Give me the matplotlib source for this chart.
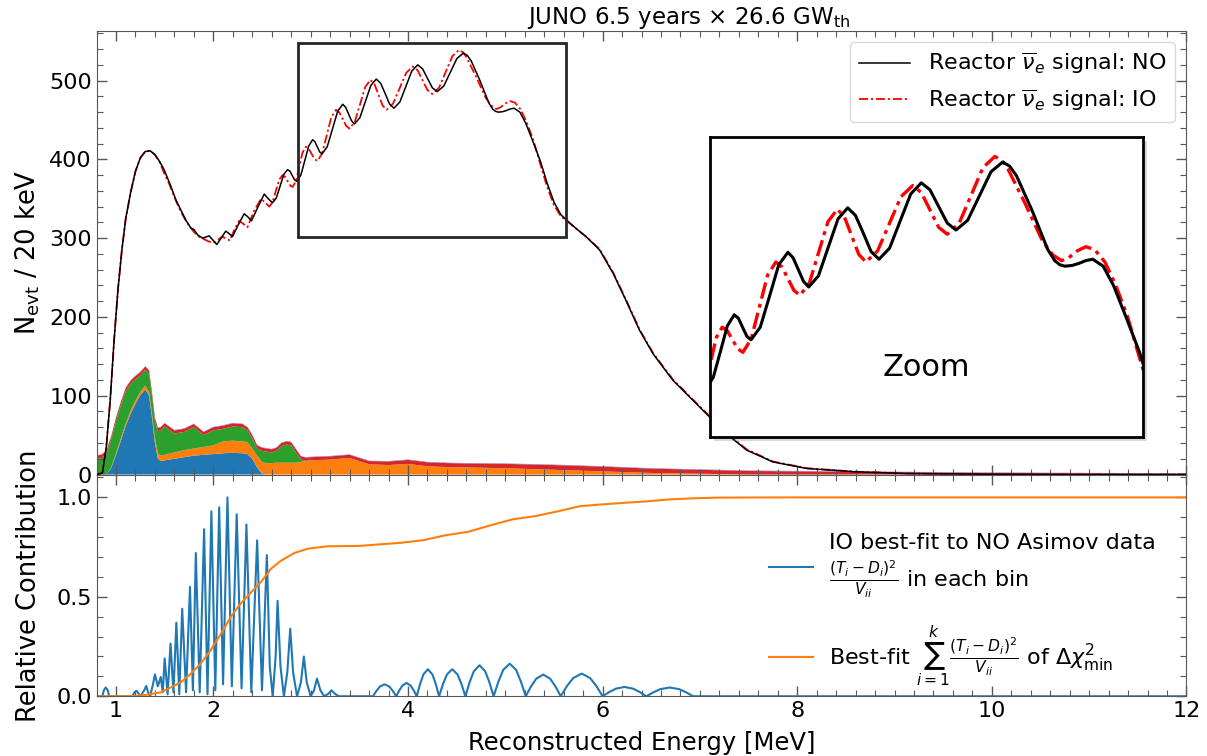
import matplotlib
matplotlib.use("Agg")
import matplotlib.pyplot as plt
import matplotlib.ticker as mticker
from matplotlib.patches import Rectangle

# reactor signal, NO and IO hypotheses (N_evt per 20 keV)
no_e = [0.80, 0.86, 0.90, 0.94, 0.98, 1.02, 1.06, 1.10, 1.15, 1.20,
        1.25, 1.30, 1.35, 1.40, 1.45, 1.494, 1.563, 1.614, 1.665, 1.717,
        1.768, 1.80, 1.84, 1.89, 1.957, 2.00, 2.036, 2.08, 2.128, 2.16,
        2.197, 2.26, 2.317, 2.355, 2.392, 2.46, 2.523, 2.565, 2.608, 2.647,
        2.686, 2.724, 2.763, 2.787, 2.811, 2.835, 2.859, 2.899, 2.94, 2.98,
        3.02, 3.044, 3.068, 3.093, 3.117, 3.170, 3.224, 3.277, 3.33, 3.36,
        3.39, 3.42, 3.45, 3.506, 3.5625, 3.619, 3.675, 3.72, 3.766, 3.81,
        3.856, 3.917, 3.978, 4.039, 4.10, 4.15, 4.20, 4.25, 4.30, 4.3675,
        4.435, 4.5025, 4.57, 4.61, 4.65, 4.74, 4.83, 4.87, 4.90, 4.93,
        4.97, 5.01, 5.05, 5.09, 5.15, 5.21, 5.28, 5.36, 5.43, 5.50,
        5.57, 5.63, 5.73, 5.83, 5.97, 6.11, 6.24, 6.38, 6.52, 6.72,
        6.93, 7.10, 7.27, 7.48, 7.75, 8.10, 8.61, 9.12, 10.0, 11.0,
        12.0]
no_val = [0, 2, 35, 94, 170, 235, 285, 325, 358, 385,
          402, 410, 411, 406, 397, 387, 366, 349, 336, 323,
          313, 311, 304, 300, 303, 297, 292, 300, 309, 306,
          302, 318, 331, 327, 322, 340, 356, 350, 345, 351,
          366, 381, 387, 385, 379.5, 374, 372, 380, 398.5, 417,
          425, 422.5, 416, 409.5, 407, 416, 438.5, 461, 470, 466,
          457.5, 449, 445, 453, 473.5, 494, 502, 496.5, 483.5, 470.5,
          465, 473, 492.5, 512, 520, 515, 503, 491, 486, 493,
          510.5, 528, 535, 532, 525, 500, 472, 464, 461, 460,
          460.5, 462, 464, 465, 460, 446, 424, 398, 370, 346,
          330, 323, 312, 302, 285, 255, 221, 183, 153, 120,
          94, 73, 52, 31, 16, 7.6, 3.4, 1.3, 0.3, 0.05,
          0]

io_e = [0.80, 0.86, 0.90, 0.94, 0.98, 1.02, 1.06, 1.10, 1.15, 1.20,
        1.25, 1.30, 1.35, 1.40, 1.45, 1.50, 1.55, 1.60, 1.65, 1.70,
        1.75, 1.80, 1.85, 1.90, 1.95, 2.00, 2.05, 2.09, 2.14, 2.17,
        2.22, 2.265, 2.31, 2.35, 2.42, 2.49, 2.535, 2.575, 2.609, 2.6425,
        2.676, 2.71, 2.736, 2.7625, 2.789, 2.815, 2.849, 2.8825, 2.916, 2.95,
        2.98, 3.01, 3.04, 3.07, 3.1175, 3.165, 3.2125, 3.26, 3.295, 3.33,
        3.365, 3.40, 3.454, 3.5075, 3.561, 3.615, 3.656, 3.6975, 3.739, 3.78,
        3.8475, 3.915, 3.9825, 4.05, 4.10, 4.15, 4.20, 4.25, 4.319, 4.3875,
        4.456, 4.525, 4.565, 4.60, 4.70, 4.80, 4.86, 4.91, 4.95, 5.00,
        5.05, 5.10, 5.16, 5.22, 5.29, 5.36, 5.43, 5.50, 5.57, 5.63,
        5.73, 5.83, 5.97, 6.11, 6.24, 6.38, 6.52, 6.72, 6.93, 7.10,
        7.27, 7.48, 7.75, 8.10, 8.61, 9.12, 10.0, 11.0, 12.0]
io_val = [0, 2, 35, 94, 170, 235, 285, 325, 358, 385,
          402, 410, 411, 406, 396, 381, 368, 352, 338, 326,
          316, 308, 302, 299, 296, 294, 298, 302, 299, 297,
          312, 322, 318, 314, 335, 350, 345, 340, 346, 360,
          374, 380, 378, 372.5, 367, 365, 372.5, 390.5, 408.5, 416,
          413.5, 407, 400.5, 398, 407.5, 430.5, 453.5, 463, 459.5, 451,
          442.5, 439, 448, 470, 492, 501, 495.5, 482, 468.5, 463,
          471, 490.5, 510, 518, 513, 500.5, 488, 483, 491, 511,
          531, 539, 536, 530, 505, 478, 468, 464, 466, 471,
          474, 472, 463, 447, 424, 394, 365, 342, 328, 322,
          312, 302, 286, 256, 222, 184, 154, 121, 95, 74,
          53, 32, 16.5, 8, 3.5, 1.4, 0.3, 0.05, 0]

# backgrounds, stacked (layer thickness)
bkg_e = [0.80, 0.85, 0.90, 0.95, 1.00, 1.05, 1.10, 1.15, 1.20, 1.25, 1.30, 1.34, 1.37, 1.40,
         1.43, 1.46, 1.50, 1.60, 1.70, 1.80, 1.90, 2.00, 2.10, 2.20, 2.30, 2.35, 2.40, 2.45,
         2.50, 2.55, 2.60, 2.65, 2.70, 2.75, 2.80, 2.85, 2.90, 2.95, 3.00, 3.20, 3.40, 3.60,
         3.80, 4.00, 4.20, 4.40, 4.60, 5.00, 5.50, 6.00, 6.50, 7.00, 7.50, 8.00, 9.00, 10.0,
         11.0, 12.0]
bkg_blue = [0, 0, 0, 8, 25, 43, 62, 77, 90, 101, 108, 100, 72, 40, 20, 17, 18, 20, 22, 24,
            25, 26, 27, 27.5, 27, 26, 20, 9, 1] + [0] * 29
bkg_orange = [0, 0, 0, 1, 2, 3, 3, 4, 4, 4, 5, 5, 5, 6, 7, 7, 7, 8, 9, 9, 10, 11, 15, 15.5,
              15, 15, 13, 15, 15, 14, 14.5, 15, 15, 15, 15, 15, 16, 17, 18, 19, 21, 13, 12,
              13.5, 10.5, 9.5, 9, 8, 6, 4, 2, 1, 0, 0, 0, 0, 0, 0]
bkg_green = [20, 21, 26, 35, 41, 42, 41, 34, 27, 21, 20, 23, 23, 22, 28, 32, 36, 24, 23, 27,
             15, 19, 16, 18, 18, 15, 13, 9, 14, 15, 13.5, 15, 21, 23, 22, 13, 3, 0.5, 0] + [0] * 19
bkg_red = [4] * 42 + [4.5, 5, 5, 5, 5, 5.5, 6, 6, 5.5, 5, 4.5, 4, 3, 2, 1.5, 1]
bkg_purple = [0.6] * 58

# relative contribution per bin and cumulative
rel_e = [0.80, 0.86, 0.875, 0.894, 0.915, 0.93, 1.17, 1.19, 1.21, 1.23, 1.25, 1.29, 1.31, 1.33,
         1.35, 1.38, 1.40, 1.43, 1.46, 1.48, 1.50, 1.53, 1.56, 1.59, 1.62, 1.65, 1.68, 1.72,
         1.76, 1.79, 1.82, 1.86, 1.905, 1.94, 1.98, 2.02, 2.06, 2.10, 2.145, 2.19, 2.24, 2.29,
         2.34, 2.39, 2.45, 2.50, 2.55, 2.58, 2.61, 2.64, 2.66, 2.69, 2.725, 2.76, 2.79, 2.82,
         2.86, 2.90, 2.93, 2.96, 3.00, 3.035, 3.065, 3.10, 3.14, 3.18, 3.215, 3.25, 3.29,
         3.64, 3.676, 3.712, 3.76, 3.808, 3.844,
         3.88, 3.9115, 3.943, 3.985, 4.027, 4.0585,
         4.09, 4.1245, 4.159, 4.205, 4.251, 4.2855,
         4.32, 4.3605, 4.401, 4.455, 4.509, 4.5495,
         4.59, 4.6335, 4.677, 4.735, 4.793, 4.8365,
         4.88, 4.9295, 4.979, 5.045, 5.111, 5.1605,
         5.21, 5.264, 5.318, 5.39, 5.462, 5.516,
         5.57, 5.6345, 5.699, 5.785, 5.871, 5.9355,
         6.00, 6.0675, 6.135, 6.225, 6.315, 6.3825,
         6.45, 6.522, 6.594, 6.69, 6.786, 6.858,
         6.93, 12.0]
rel_val = [0, 0, 0.03, 0.044, 0.03, 0, 0, 0.02, 0.027, 0.015, 0, 0.03, 0.052, 0.02,
           0, 0.06, 0.11, 0.05, 0.097, 0.02, 0.19, 0.01, 0.265, 0.02, 0.37, 0.01, 0.44, 0.02,
           0.55, 0.03, 0.72, 0.02, 0.84, 0.01, 0.93, 0.03, 0.95, 0.06, 1.0, 0.05, 0.915, 0.04,
           0.864, 0.02, 0.784, 0.03, 0.71, 0.15, 0.0, 0.2, 0.48, 0.15, 0.0, 0.12, 0.34, 0.12,
           0.0, 0.07, 0.20, 0.07, 0.0, 0.03, 0.089, 0.03, 0.0, 0.012, 0.03, 0.012, 0.0,
           0, 0.027, 0.049, 0.06, 0.049, 0.027,
           0, 0.030, 0.054, 0.067, 0.054, 0.030,
           0, 0.062, 0.110, 0.136, 0.110, 0.062,
           0, 0.062, 0.110, 0.136, 0.110, 0.062,
           0, 0.071, 0.126, 0.156, 0.126, 0.071,
           0, 0.074, 0.133, 0.164, 0.133, 0.074,
           0, 0.049, 0.088, 0.109, 0.088, 0.049,
           0, 0.052, 0.092, 0.114, 0.092, 0.052,
           0, 0.021, 0.038, 0.047, 0.038, 0.021,
           0, 0.020, 0.036, 0.044, 0.036, 0.020,
           0, 0]
cum_e = [0.80, 1.10, 1.20, 1.32, 1.46, 1.56, 1.67, 1.77, 1.87, 1.97, 2.08, 2.18, 2.28, 2.39,
         2.49, 2.59, 2.69, 2.83, 2.97, 3.17, 3.50, 3.93, 4.16, 4.39, 4.62, 4.85, 5.08, 5.31,
         5.54, 5.77, 6.00, 6.23, 6.45, 6.69, 6.92, 7.20, 8.0, 12.0]
cum_val = [0, 0, 0.002, 0.008, 0.02, 0.044, 0.072, 0.114, 0.164, 0.23, 0.315, 0.40, 0.466,
           0.524, 0.575, 0.64, 0.68, 0.72, 0.742, 0.754, 0.756, 0.772, 0.785, 0.81, 0.827,
           0.86, 0.89, 0.906, 0.93, 0.956, 0.965, 0.973, 0.98, 0.99, 0.995, 0.999, 1.0, 1.0]

xticks = [1, 2, 4, 6, 8, 10, 12]
no_label = r'Reactor $\overline{\nu}_e$ signal: NO'
io_label = r'Reactor $\overline{\nu}_e$ signal: IO'
bin_label = 'IO best-fit to NO Asimov data\n' + r'$\frac{(T_i-D_i)^2}{V_{ii}}$ in each bin'
sum_label = r'Best-fit $\sum_{i=1}^{k}\frac{(T_i-D_i)^2}{V_{ii}}$ of $\Delta\chi^2_{\rm min}$'

plt.rcParams['font.family'] = ['DejaVu Sans']
plt.rcParams['mathtext.fontset'] = 'dejavusans'

io_ls = (0, (5, 1.6, 1.2, 1.6))
spine_c = '0.35'

fig = plt.figure(figsize=(12.07, 7.56), dpi=100)
gs = fig.add_gridspec(2, 1, height_ratios=[2, 1], hspace=0,
                      left=0.080, right=0.983, top=0.959, bottom=0.079)
ax1 = fig.add_subplot(gs[0])
ax2 = fig.add_subplot(gs[1], sharex=ax1)

ax1.stackplot(bkg_e, bkg_blue, bkg_orange, bkg_green, bkg_red, bkg_purple,
              colors=['tab:blue', 'tab:orange', 'tab:green', 'tab:red', 'tab:purple'],
              lw=0, zorder=1)
ax1.plot(io_e, io_val, color='red', lw=1.3, ls=io_ls, label=io_label, zorder=3)
ax1.plot(no_e, no_val, color='k', lw=1.1, label=no_label, zorder=4)
h, l = ax1.get_legend_handles_labels()
ax1.legend(h[::-1], l[::-1], loc='upper right', fontsize=16, handlelength=2.3,
           edgecolor='0.85', framealpha=1)
ax1.add_patch(Rectangle((2.872, 301), 2.748, 247, fill=False, ec='0.15', lw=2, zorder=5))

ax1.set_xlim(0.8, 12)
ax1.set_ylim(0, 563)
ax1.set_xticks(xticks)
ax1.set_yticks([0, 100, 200, 300, 400, 500])
ax1.xaxis.set_minor_locator(mticker.MultipleLocator(0.2))
ax1.yaxis.set_minor_locator(mticker.MultipleLocator(20))
ax1.set_ylabel(r'N$_{\rm evt}$ / 20 keV', fontsize=18.5)
ax1.set_title(r'JUNO 6.5 years $\times$ 26.6 GW$_{\rm th}$', fontsize=16.5, pad=4, x=0.543)

ax2.plot(rel_e, rel_val, color='tab:blue', lw=1.5, label=bin_label)
ax2.plot(cum_e, cum_val, color='tab:orange', lw=1.5, label=sum_label)
ax2.legend(loc='center right', bbox_to_anchor=(0.99, 0.385), frameon=False,
           fontsize=16, handlelength=2.0, handletextpad=0.7, labelspacing=1.1)
ax2.set_ylim(0, 1.115)
ax2.set_yticks([0.0, 0.5, 1.0])
ax2.yaxis.set_minor_locator(mticker.MultipleLocator(0.1))
ax2.set_ylabel('Relative Contribution', fontsize=18.5)
ax2.set_xlabel('Reconstructed Energy [MeV]', fontsize=17.5, labelpad=7)

for ax in (ax1, ax2):
    ax.tick_params(which='both', direction='in', top=True, right=True,
                   color=spine_c, labelsize=16)
    ax.tick_params(which='major', length=7, width=1)
    ax.tick_params(which='minor', length=4, width=0.8)
    for s in ax.spines.values():
        s.set_color(spine_c)
    ax.yaxis.set_label_coords(-0.05, 0.5)
ax1.tick_params(labelbottom=False)

# zoomed view of the oscillation region
shadow = Rectangle((714 / 1207, 1 - 441 / 756), 433 / 1207, 300 / 756,
                   transform=fig.transFigure, fc='0.4', ec='none', alpha=0.25, zorder=4)
fig.add_artist(shadow)
axin = fig.add_axes([710 / 1207, 1 - 437 / 756, 433 / 1207, 300 / 756], zorder=5)
axin.plot(io_e, io_val, color='red', lw=2.4, ls=io_ls)
axin.plot(no_e, no_val, color='k', lw=2.2)
axin.set_xlim(2.88, 5.38)
axin.set_ylim(337, 553)
axin.set_xticks([])
axin.set_yticks([])
for s in axin.spines.values():
    s.set_linewidth(2)
    s.set_color('k')
axin.text(0.5, 0.23, 'Zoom', fontsize=22, ha='center', va='center', transform=axin.transAxes)

fig.savefig('out.png', dpi=100)
